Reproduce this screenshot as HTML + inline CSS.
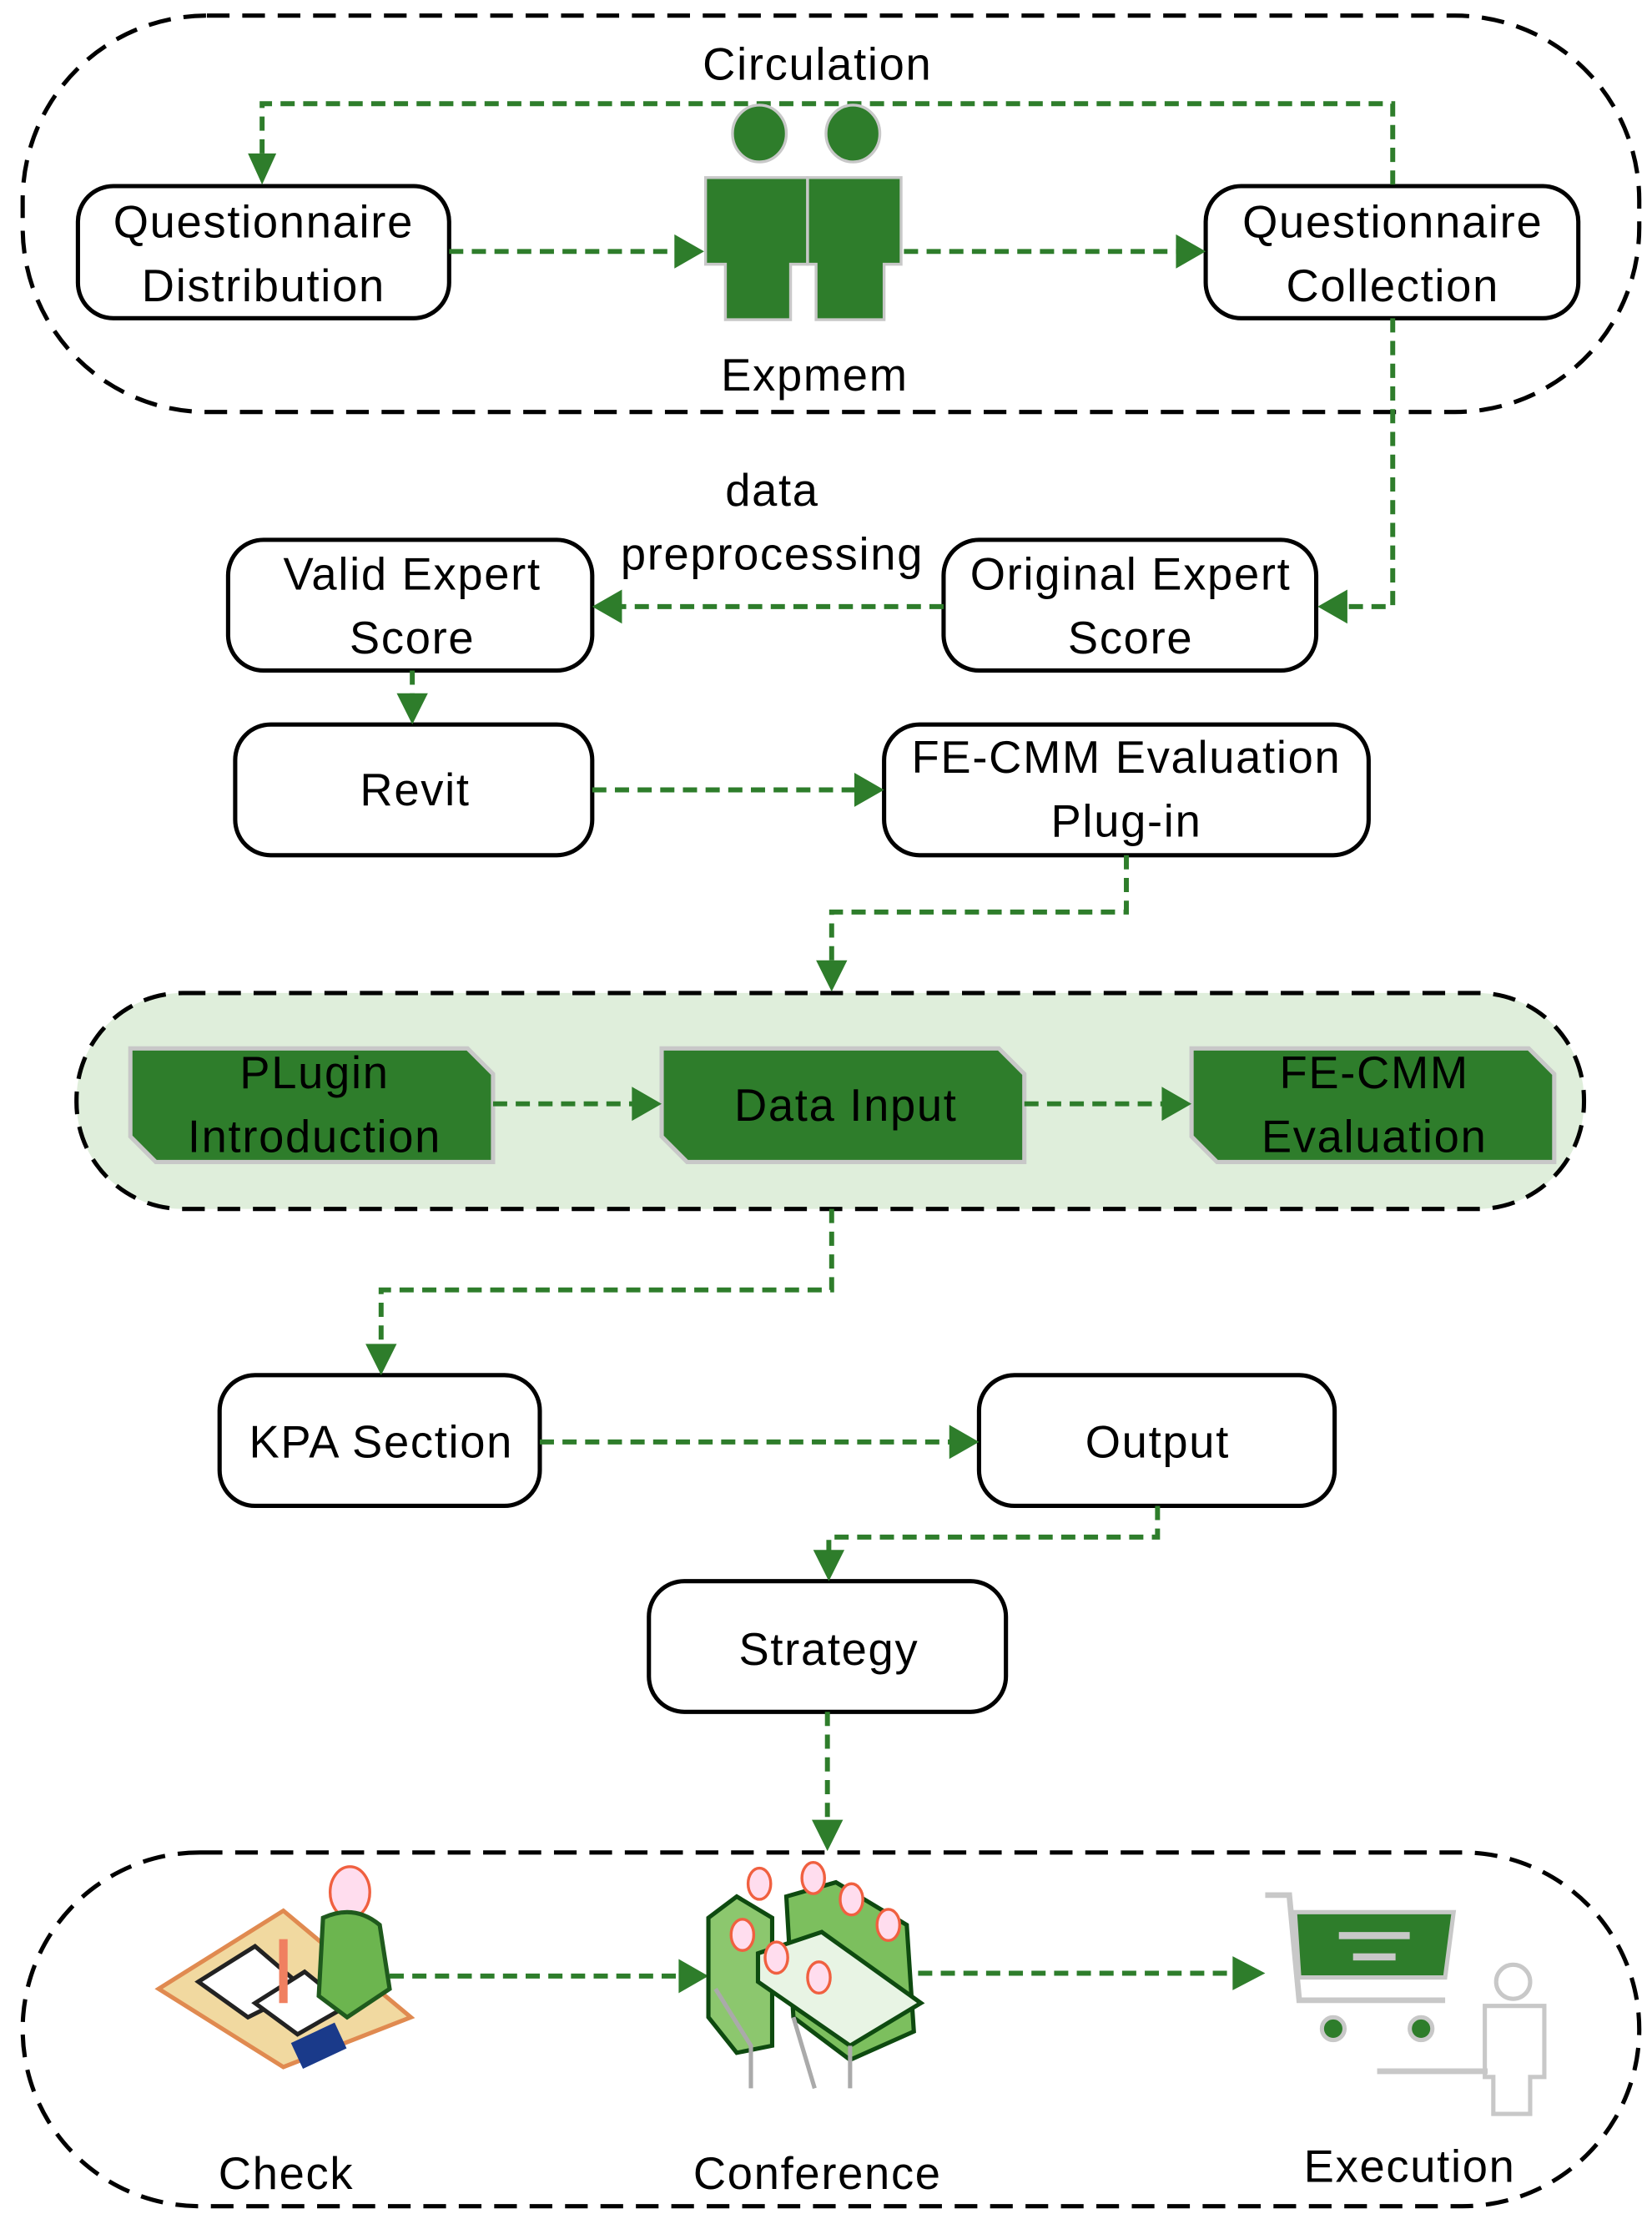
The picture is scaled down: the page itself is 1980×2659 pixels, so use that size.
<!DOCTYPE html>
<html><head><meta charset="utf-8"><style>
html,body{margin:0;padding:0;background:#fff}
svg{display:block}
text{font-family:"Liberation Sans",sans-serif;font-size:32px;letter-spacing:1px;fill:#000;text-anchor:middle}
</style></head><body>
<svg width="1980" height="2659" viewBox="0 0 1166 1562" preserveAspectRatio="none" xmlns="http://www.w3.org/2000/svg">
<g fill="none" stroke="#000" stroke-width="3" stroke-dasharray="16 9">
<rect x="16" y="11" width="1141" height="279" rx="130"/>
<rect x="54" y="699" width="1064" height="152" rx="75" fill="#dfeedb"/>
<rect x="16" y="1304" width="1141" height="249" rx="125"/>
</g>
<g fill="#fff" stroke="#000" stroke-width="3">
<rect x="55" y="131" width="262" height="93" rx="25"/>
<rect x="851" y="131" width="263" height="93" rx="25"/>
<rect x="666" y="380" width="263" height="92" rx="25"/>
<rect x="161" y="380" width="257" height="92" rx="25"/>
<rect x="166" y="510" width="252" height="92" rx="25"/>
<rect x="624" y="510" width="342" height="92" rx="25"/>
<rect x="155" y="968" width="226" height="92" rx="25"/>
<rect x="691" y="968" width="251" height="92" rx="25"/>
<rect x="458" y="1113" width="252" height="92" rx="25"/>
</g>
<g fill="#2e7d2b" stroke="#c8c8c8" stroke-width="3">
<path d="M92,738 H330 L348,756 V818 H110 L92,800 Z"/>
<path d="M467,738 H705 L723,756 V818 H485 L467,800 Z"/>
<path d="M841,738 H1079 L1097,756 V818 H859 L841,800 Z"/>
</g>
<g fill="none" stroke="#2e7d2b" stroke-width="3.5" stroke-dasharray="10 6">
<path d="M983,130 V73 H185 V112"/>
<path d="M317,177 H478"/>
<path d="M638,177 H832"/>
<path d="M983,224 V427 H950"/>
<path d="M666,427 H438"/>
<path d="M291,472 V492"/>
<path d="M418,556 H605"/>
<path d="M795,602 V642 H587 V680"/>
<path d="M348,777 H448"/>
<path d="M723,777 H822"/>
<path d="M587,851 V908 H269 V950"/>
<path d="M381,1015 H672"/>
<path d="M817,1060 V1082 H585 V1095"/>
<path d="M584,1205 V1285"/>
<path d="M275,1391 H482"/>
<path d="M648,1389 H874"/>
</g>
<g fill="#2e7d2b">
<path d="M175,108 L195,108 L185,130 Z"/>
<path d="M476,165 L476,189 L497,177 Z"/>
<path d="M830,165 L830,189 L851,177 Z"/>
<path d="M951,415 L951,439 L930,427 Z"/>
<path d="M439,415 L439,439 L418,427 Z"/>
<path d="M280,488 L302,488 L291,510 Z"/>
<path d="M603,544 L603,568 L624,556 Z"/>
<path d="M576,676 L598,676 L587,698 Z"/>
<path d="M446,765 L446,789 L467,777 Z"/>
<path d="M820,765 L820,789 L841,777 Z"/>
<path d="M258,946 L280,946 L269,968 Z"/>
<path d="M670,1003 L670,1027 L691,1015 Z"/>
<path d="M574,1091 L596,1091 L585,1113 Z"/>
<path d="M573,1281 L595,1281 L584,1303 Z"/>
<path d="M479,1379 L479,1403 L500,1391 Z"/>
<path d="M870,1377 L870,1401 L893,1389 Z"/>
</g>
<g fill="#2e7d2b" stroke="#c8c8c8" stroke-width="2">
<ellipse cx="536" cy="94" rx="19" ry="20"/>
<ellipse cx="602" cy="94" rx="19" ry="20"/>
<path d="M498,125 H570 V186 H558 V225 H512 V186 H498 Z"/>
<path d="M570,125 H636 V186 H624 V225 H576 V186 H570 Z"/>
</g>
<g>
<path d="M112,1400 L200,1345 L290,1420 L200,1455 Z" fill="#f1d9a0" stroke="#e08a50" stroke-width="3"/>
<path d="M140,1395 L180,1370 L215,1400 L175,1420 Z" fill="#fff" stroke="#222" stroke-width="3"/>
<path d="M180,1410 L215,1388 L245,1412 L210,1432 Z" fill="#fff" stroke="#222" stroke-width="3"/>
<rect x="208" y="1430" width="34" height="20" fill="#1a3a8a" transform="rotate(-25 225 1440)"/>
<ellipse cx="247" cy="1332" rx="14" ry="18" fill="#fde" stroke="#f06040" stroke-width="2"/>
<path d="M228,1350 Q250,1340 268,1355 L275,1400 L245,1420 L225,1405 Z" fill="#6cb54f" stroke="#1f5a1d" stroke-width="3"/>
<rect x="197" y="1365" width="6" height="45" fill="#f08060"/>
</g>
<g stroke="#0e4a10" stroke-width="3">
<path d="M500,1350 L520,1335 L545,1350 L545,1440 L520,1445 L500,1420 Z" fill="#8cc76e"/>
<path d="M555,1335 L590,1325 L640,1355 L645,1430 L600,1450 L560,1420 Z" fill="#7cbf5e"/>
<path d="M535,1375 L580,1360 L650,1410 L600,1440 L535,1395 Z" fill="#e8f4e4"/>
<path d="M505,1400 L530,1440 L530,1470 M560,1420 L575,1470 M600,1440 L600,1470" fill="none" stroke="#aaa"/>
<g fill="#fde" stroke="#f06040" stroke-width="2">
<ellipse cx="536" cy="1326" rx="8" ry="11"/><ellipse cx="574" cy="1322" rx="8" ry="11"/>
<ellipse cx="601" cy="1337" rx="8" ry="11"/><ellipse cx="627" cy="1355" rx="8" ry="11"/>
<ellipse cx="524" cy="1362" rx="8" ry="11"/><ellipse cx="548" cy="1378" rx="8" ry="11"/>
<ellipse cx="578" cy="1392" rx="8" ry="11"/>
</g>
</g>
<g>
<path d="M893,1334 H910 L917,1408 H1020" fill="none" stroke="#c8c8c8" stroke-width="4"/>
<path d="M914,1346 H1026 L1020,1392 H917 Z" fill="#2e7d2b" stroke="#c8c8c8" stroke-width="3"/>
<rect x="945" y="1360" width="50" height="5" fill="#c8c8c8"/>
<rect x="955" y="1375" width="30" height="5" fill="#c8c8c8"/>
<circle cx="941" cy="1428" r="8" fill="#2e7d2b" stroke="#c8c8c8" stroke-width="3"/>
<circle cx="1003" cy="1428" r="8" fill="#2e7d2b" stroke="#c8c8c8" stroke-width="3"/>
<circle cx="1068" cy="1395" r="12" fill="#fff" stroke="#c8c8c8" stroke-width="3"/>
<path d="M1048,1412 H1090 V1462 H1080 V1488 H1054 V1462 H1048 Z" fill="#fff" stroke="#c8c8c8" stroke-width="3"/>
<path d="M972,1458 H1050" stroke="#c8c8c8" stroke-width="4"/>
</g>
<text x="577" y="56">Circulation</text>
<text x="186" y="167">Questionnaire</text>
<text x="186" y="212">Distribution</text>
<text x="983" y="167">Questionnaire</text>
<text x="983" y="212">Collection</text>
<text x="575" y="275">Expmem</text>
<text x="545" y="356">data</text>
<text x="545" y="401">preprocessing</text>
<text x="291" y="415">Valid Expert</text>
<text x="291" y="460">Score</text>
<text x="798" y="415">Original Expert</text>
<text x="798" y="460">Score</text>
<text x="293" y="567">Revit</text>
<text x="795" y="544">FE-CMM Evaluation</text>
<text x="795" y="589">Plug-in</text>
<text x="222" y="766">PLugin</text>
<text x="222" y="811">Introduction</text>
<text x="597" y="789">Data Input</text>
<text x="970" y="766">FE-CMM</text>
<text x="970" y="811">Evaluation</text>
<text x="269" y="1026">KPA Section</text>
<text x="817" y="1026">Output</text>
<text x="585" y="1172">Strategy</text>
<text x="202" y="1541">Check</text>
<text x="577" y="1541">Conference</text>
<text x="995" y="1536">Execution</text>
</svg>
</body></html>
